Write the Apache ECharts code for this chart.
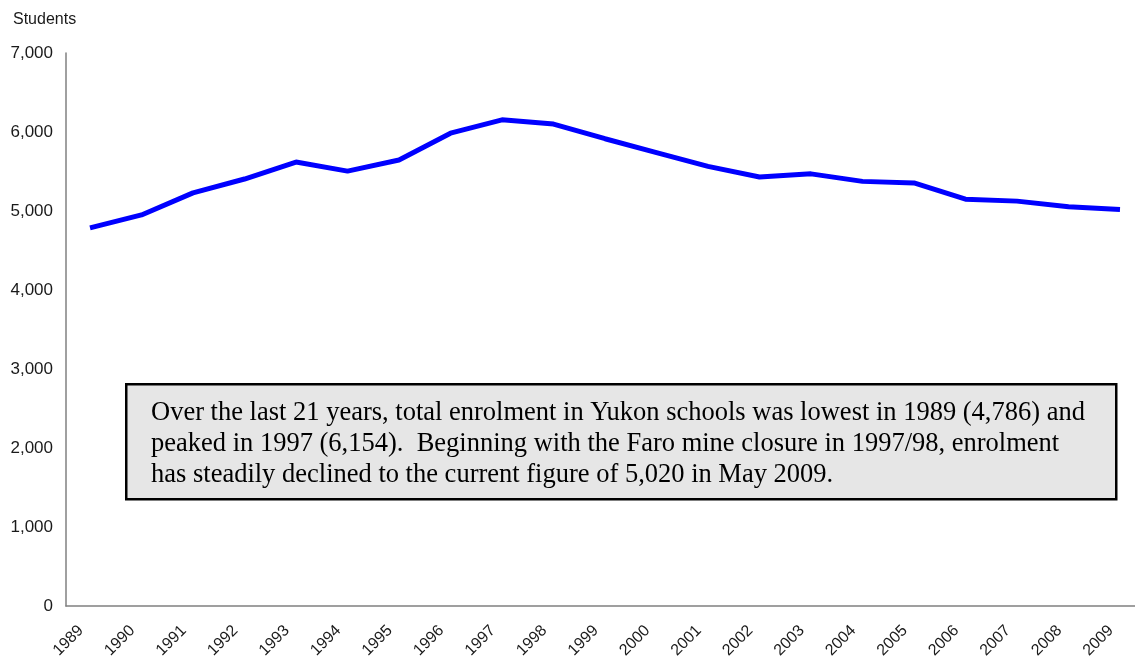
<!DOCTYPE html>
<html>
<head>
<meta charset="utf-8">
<script src="https://cdn.jsdelivr.net/npm/echarts@6/dist/echarts.min.js"></script>
<style>
  html, body { margin: 0; padding: 0; background: #fff; }
  #container { width: 1135px; height: 661px; }
</style>
</head>
<body>
<div id="container"></div>
<script>
// 数据
var years    = ['1989', '1990', '1991', '1992', '1993', '1994', '1995', '1996', '1997', '1998', '1999',
                '2000', '2001', '2002', '2003', '2004', '2005', '2006', '2007', '2008', '2009'];
var students = [4786, 4950, 5230, 5405, 5620, 5505, 5645, 5985, 6154, 6100, 5915,
                5740, 5565, 5430, 5470, 5375, 5355, 5150, 5125, 5055, 5020];
var yTicks   = [0, 1000, 2000, 3000, 4000, 5000, 6000, 7000];

var note = 'Over the last 21 years, total enrolment in Yukon schools was lowest in 1989 (4,786) and\n' +
           'peaked in 1997 (6,154).  Beginning with the Faro mine closure in 1997/98, enrolment\n' +
           'has steadily declined to the current figure of 5,020 in May 2009.';

var dom   = document.getElementById('container');
var chart = echarts.init(dom);

var font = 'Liberation Sans, Arial, sans-serif';

option = {
    animation: false,
    backgroundColor: '#ffffff',
    title: {
        text: 'Students',
        left: 8,
        top: 7,
        textStyle: {
            fontFamily: font,
            fontSize: 16,
            fontWeight: 'normal',
            color: '#1a1a1a'
        }
    },
    grid: [
        // 框线 + y 轴标签
        {left: 66, right: 0, top: 53, bottom: 55},
        // 折线
        {left: 90, right: 15, top: 53, bottom: 55},
        // x 轴标签 (稍微左移)
        {left: 81, right: 24, top: 53, bottom: 55}
    ],
    xAxis: [
        {
            gridIndex: 0,
            type: 'category',
            data: years,
            axisLine: {lineStyle: {color: '#808080', width: 1.5}},
            axisTick: {show: false},
            axisLabel: {show: false}
        },
        {
            gridIndex: 1,
            type: 'category',
            data: years,
            boundaryGap: false,
            axisLine: {show: false},
            axisTick: {show: false},
            axisLabel: {show: false}
        },
        {
            gridIndex: 2,
            type: 'category',
            data: years,
            boundaryGap: false,
            axisLine: {show: false},
            axisTick: {show: false},
            axisLabel: {
                interval: 0,
                rotate: 45,
                margin: 25,
                fontFamily: font,
                fontSize: 16,
                color: '#1a1a1a'
            }
        }
    ],
    yAxis: [
        {
            gridIndex: 0,
            type: 'value',
            min: yTicks[0],
            max: yTicks[yTicks.length - 1],
            interval: 1000,
            axisLine: {show: true, lineStyle: {color: '#808080', width: 1.5}},
            axisTick: {show: false},
            splitLine: {show: false},
            axisLabel: {
                margin: 13,
                fontFamily: font,
                fontSize: 17,
                color: '#1a1a1a',
                formatter: function (v) { return v.toLocaleString('en-US'); }
            }
        },
        {
            gridIndex: 1,
            type: 'value',
            min: yTicks[0],
            max: yTicks[yTicks.length - 1],
            interval: 1000,
            show: false
        },
        {
            gridIndex: 2,
            type: 'value',
            min: yTicks[0],
            max: yTicks[yTicks.length - 1],
            interval: 1000,
            show: false
        }
    ],
    series: [
        {
            name: 'Students',
            type: 'line',
            xAxisIndex: 1,
            yAxisIndex: 1,
            data: students,
            symbol: 'none',
            lineStyle: {color: '#0000ff', width: 5}
        }
    ],
    graphic: [
        {
            type: 'rect',
            left: 125,
            top: 383,
            z: 10,
            shape: {width: 990, height: 115},
            style: {fill: '#e6e6e6', stroke: '#000000', lineWidth: 2.5}
        },
        {
            type: 'text',
            left: 151,
            top: 398,
            z: 11,
            style: {
                text: note,
                font: '26.5px "Liberation Serif", "Times New Roman", serif',
                lineHeight: 31,
                fill: '#000000'
            }
        }
    ]
};

chart.setOption(option, true);
</script>
</body>
</html>
